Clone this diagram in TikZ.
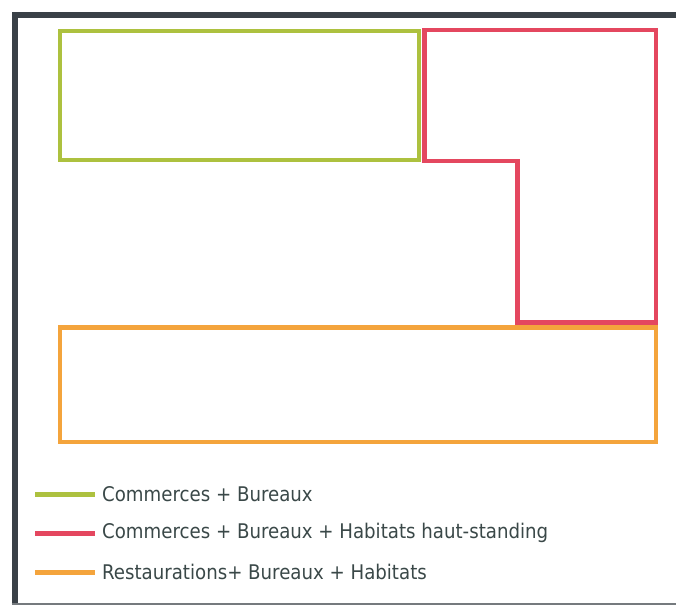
\documentclass[tikz,border=0pt]{standalone}
\usepackage{fontspec}
\setmainfont{DejaVu Sans Condensed}
\usepackage{xcolor}
\usetikzlibrary{positioning}

\definecolor{vertZone}{HTML}{ADC13F}
\definecolor{rougeZone}{HTML}{E4475F}
\definecolor{orangeZone}{HTML}{F4A43C}
\definecolor{cadre}{HTML}{3A4147}
\definecolor{texteLeg}{HTML}{3A4848}

\tikzset{
    zone/.style={line width=4.6pt, line join=miter},
    zoneVert/.style={zone, vertZone},
    zoneRouge/.style={zone, rougeZone},
    zoneOrange/.style={zone, orangeZone},
    legende/.style={right=5pt, inner sep=0pt, text=texteLeg, font=\fontsize{20.2}{22}\selectfont}
}

\begin{document}
\begin{tikzpicture}[x=1pt, y=-1pt]
    \useasboundingbox (0,0) rectangle (676,606);

    % Cadre
    \draw[cadre, line width=6pt] (14.5,604) -- (14.5,14.5) -- (676,14.5);
    \draw[cadre!70, line width=2pt] (11.5,604) -- (676,604);

    % Zones
    \draw[zoneVert] (60,31) rectangle (419,160);
    \draw[zoneRouge] (424.5,30) -- (656,30) -- (656,322.5) -- (517.5,322.5)
        -- (517.5,161) -- (424.5,161) -- cycle;
    \draw[zoneOrange] (60,327.5) rectangle (656,442);

    % Legende
    \coordinate (swVert) at (35,494);
    \coordinate (swRouge) at (35,533);
    \coordinate (swOrange) at (35,572);
    \draw[zoneVert, line width=5pt] (swVert) -- ++(60,0) coordinate (fVert);
    \draw[zoneRouge, line width=5pt] (swRouge) -- ++(60,0) coordinate (fRouge);
    \draw[zoneOrange, line width=5pt] (swOrange) -- ++(60,0) coordinate (fOrange);
    \node[legende, right=7pt of fVert] (legVert) {Commerces + Bureaux};
    \node[legende, right=7pt of fRouge] (legRouge) {Commerces + Bureaux + Habitats haut-standing};
    \node[legende, right=7pt of fOrange] (legOrange) {Restaurations+ Bureaux + Habitats};
\end{tikzpicture}
\end{document}
